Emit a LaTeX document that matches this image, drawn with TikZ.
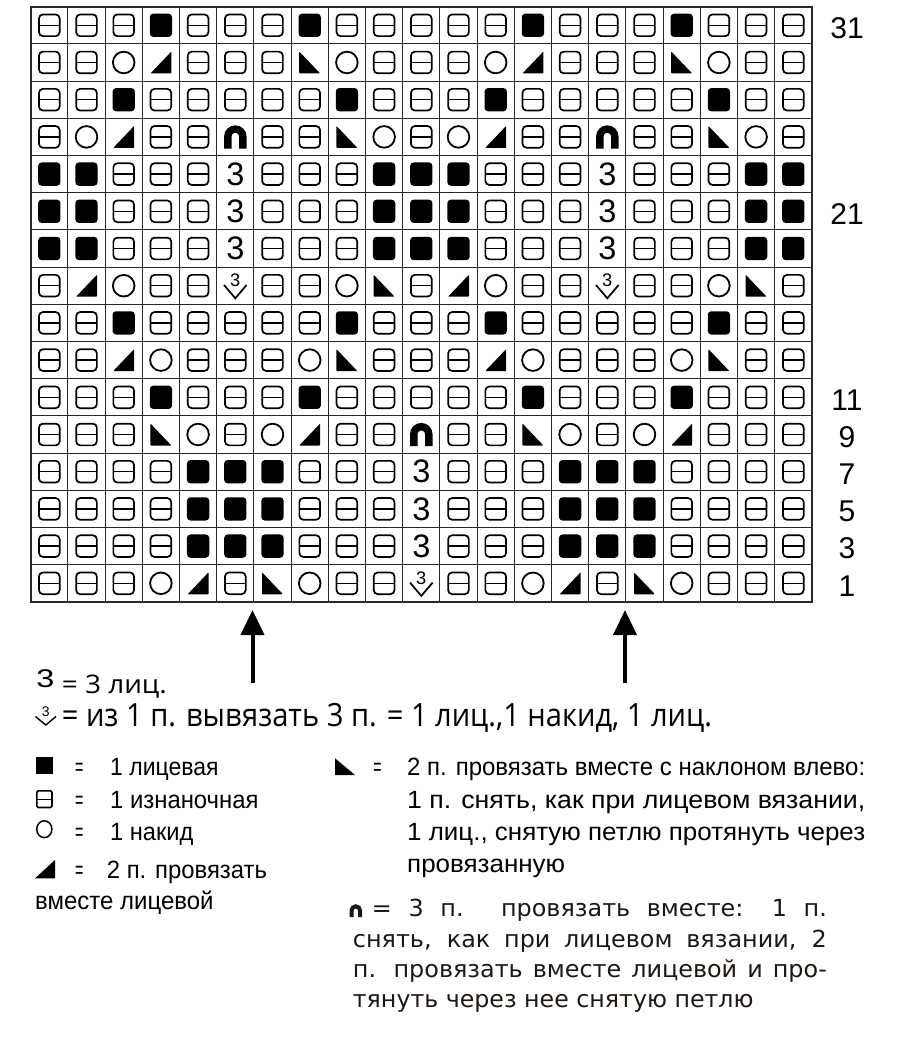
\documentclass[tikz,border=0pt]{standalone}
\usepackage{fontspec}
\usepackage{graphicx}
\setmainfont{Liberation Sans}
\newfontfamily\osans{Open Sans}
\newfontfamily\dvs{DejaVu Sans}
\usetikzlibrary{arrows.meta}
\definecolor{gridc}{RGB}{40,40,40}
\definecolor{brownink}{RGB}{30,24,18}
\newcommand{\fitw}[2]{\resizebox{#1}{\height}{#2}}
\tikzset{
  gridl/.style={draw=gridc, line width=1.1pt},
  border/.style={draw=gridc, line width=1.7pt},
  pics/symP/.style={code={
    \draw[line width=1.7pt, rounded corners=4pt] (-10.35,-10.85) rectangle (10.35,10.85);
    \draw[line width=1.5pt] (-10.35,0) -- (10.35,0);}},
  pics/symK/.style={code={
    \fill[rounded corners=3.5pt] (-11.15,-11.65) rectangle (11.15,11.65);}},
  pics/symO/.style={code={
    \draw[line width=1.8pt] (0,0) circle (10.8pt);}},
  pics/symL/.style={code={
    \fill[rounded corners=0.8pt] (-10.5,11) -- (10.5,11) -- (10.5,-11) -- cycle;}},
  pics/symR/.style={code={
    \fill[rounded corners=0.8pt] (-10.5,-11) -- (-10.5,11) -- (10.5,11) -- cycle;}},
  pics/symN/.style={code={
    \draw[line width=7.4pt] (-7.5,11.6) -- (-7.5,-0.3) arc (180:360:7.5) -- (7.5,11.6);}},
  pics/symT/.style={code={
    \node[inner sep=0pt, font=\fontsize{32.5}{32.5}\selectfont] (-t) at (0,0) {3};}},
  pics/symV/.style={code={
    \node[inner sep=0pt, font=\fontsize{18.2}{18.2}\selectfont] (-t) at (0,-5) {3};
    \draw[line width=1.7pt] (-11.3,-0.7) -- (0,12.6) -- (11.3,-0.7);}},
  rowlab/.style={anchor=base, inner sep=0pt, font=\fontsize{30}{30}\selectfont},
  uparrow/.style={line width=4pt, -{Triangle[width=23pt,length=25pt]}},
  leg/.style={anchor=base west, inner sep=0pt, font=\fontsize{25}{25}\selectfont},
  legeq/.style={anchor=base, inner sep=0pt, font=\fontsize{25}{25}\selectfont},
  blk/.style={anchor=base west, inner sep=0pt, text=brownink, font=\dvs\fontsize{23.5}{23.5}\selectfont},
}
\begin{document}
\begin{tikzpicture}[x=1pt,y=-1pt]
\useasboundingbox[fill=white] (0,0) rectangle (914,1049);
% grid
\foreach \i in {0,...,21} \draw[gridl] ({30.7+\i*37.2},6.7) -- ({30.7+\i*37.2},601.9);
\foreach \j in {0,...,16} \draw[gridl] (30.7,{6.7+\j*37.2}) -- (811.9,{6.7+\j*37.2});
\draw[border] (30.7,6.7) rectangle (811.9,601.9);
% cells
\foreach \rowdata [count=\r] in {
 {P,P,P,K,P,P,P,K,P,P,P,P,P,K,P,P,P,K,P,P,P},
 {P,P,O,L,P,P,P,R,O,P,P,P,O,L,P,P,P,R,O,P,P},
 {P,P,K,P,P,P,P,P,K,P,P,P,K,P,P,P,P,P,K,P,P},
 {P,O,L,P,P,N,P,P,R,O,P,O,L,P,P,N,P,P,R,O,P},
 {K,K,P,P,P,T,P,P,P,K,K,K,P,P,P,T,P,P,P,K,K},
 {K,K,P,P,P,T,P,P,P,K,K,K,P,P,P,T,P,P,P,K,K},
 {K,K,P,P,P,T,P,P,P,K,K,K,P,P,P,T,P,P,P,K,K},
 {P,L,O,P,P,V,P,P,O,R,P,L,O,P,P,V,P,P,O,R,P},
 {P,P,K,P,P,P,P,P,K,P,P,P,K,P,P,P,P,P,K,P,P},
 {P,P,L,O,P,P,P,O,R,P,P,P,L,O,P,P,P,O,R,P,P},
 {P,P,P,K,P,P,P,K,P,P,P,P,P,K,P,P,P,K,P,P,P},
 {P,P,P,R,O,P,O,L,P,P,N,P,P,R,O,P,O,L,P,P,P},
 {P,P,P,P,K,K,K,P,P,P,T,P,P,P,K,K,K,P,P,P,P},
 {P,P,P,P,K,K,K,P,P,P,T,P,P,P,K,K,K,P,P,P,P},
 {P,P,P,P,K,K,K,P,P,P,T,P,P,P,K,K,K,P,P,P,P},
 {P,P,P,O,L,P,R,O,P,P,V,P,P,O,L,P,R,O,P,P,P}}{
  \foreach \s [count=\c] in \rowdata {
    \pic (c\r-\c) at ({30.7+(\c-0.5)*37.2},{6.7+(\r-0.5)*37.2}) {sym\s};
  }
}
% row labels
\foreach \r/\lab in {1/31,6/21,11/11,12/9,13/7,14/5,15/3,16/1}
  \node[rowlab] (lab\lab) at (847,{6.7+(\r-0.5)*37.2+12.8}) {\lab};
% arrows
\coordinate (arAbot) at (252.5,683);
\coordinate (arAtop) at (252.5,610);
\coordinate (arBbot) at (625,683);
\coordinate (arBtop) at (625,610);
\draw[uparrow] (arAbot) -- (arAtop);
\draw[uparrow] (arBbot) -- (arBtop);
% legend top lines
\node[anchor=base west, inner sep=0pt, font=\fontsize{25.6}{25.6}\selectfont] (l1sym) at (36.2,687.5) {\fitw{18pt}{3}};
\node[anchor=base west, inner sep=0pt, font=\osans\fontsize{25.6}{25.6}\selectfont] (l1) at (61.7,693.3) {\fitw{105pt}{= 3 лиц.}};
\node[inner sep=0pt, font=\fontsize{14}{14}\selectfont] (l2sym) at (45.8,711.2) {3};
\draw[line width=1.4pt] (35.5,716.5) -- (45.8,725) -- (56,716.5);
\node[anchor=base west, inner sep=0pt, font=\osans\fontsize{32}{32}\selectfont] (l2) at (61.7,726.7) {\fitw{650pt}{= из 1 п. вывязать 3 п. = 1 лиц.,1 накид, 1 лиц.}};
% legend left column
\fill (36,756.7) rectangle (52.7,774);
\draw[line width=1.6pt, rounded corners=1.5pt] (36.8,790.8) rectangle (52,807.5);
\draw[line width=1.4pt] (36.8,799.2) -- (52,799.2);
\draw[line width=1.5pt] (44.3,829.2) ellipse (7.6 and 8.4);
\fill (35,878.3) -- (55,878.3) -- (55,860) -- cycle;
\node[legeq] (e1) at (79.2,775) {\fitw{8.3pt}{=}};
\node[legeq] (e2) at (79.2,808.3) {\fitw{8.3pt}{=}};
\node[legeq] (e3) at (79.2,840) {\fitw{8.3pt}{=}};
\node[legeq] (e4) at (79.2,878.3) {\fitw{8.3pt}{=}};
\node[leg] (t1) at (110,775) {\fitw{108.3pt}{1 лицевая}};
\node[leg] (t2) at (110,808.3) {\fitw{148.3pt}{1 изнаночная}};
\node[leg] (t3) at (110,840) {\fitw{83.3pt}{1 накид}};
\node[leg] (t4) at (106.7,878.3) {\fitw{160pt}{2 п. провязать}};
\node[leg] (t5) at (35,909.3) {\fitw{178.3pt}{вместе лицевой}};
% legend right column
\fill (335,758.3) -- (335,775) -- (355,775) -- cycle;
\node[legeq] (e5) at (377.5,775) {\fitw{8.3pt}{=}};
\node[leg] (r1) at (407,775) {\fitw{458pt}{2 п. провязать вместе с наклоном влево:}};
\node[leg] (r2) at (407,808) {\fitw{458pt}{1 п. снять, как при лицевом вязании,}};
\node[leg] (r3) at (407,840) {\fitw{458pt}{1 лиц., снятую петлю протянуть через}};
\node[leg] (r4) at (407,872) {\fitw{158pt}{провязанную}};
% bottom block
\draw[line width=4pt, brownink] (351.5,917) -- (351.5,910.6) arc (180:360:4.3) -- (360.1,917);
\node[blk] (b1) at (371.7,916.7) {\scalebox{1.016}[1]{\makebox[447.8pt][s]{= 3 п. провязать вместе: 1 п.}}};
\node[blk] (b2) at (352.7,947.3) {\scalebox{1.016}[1]{\makebox[466.5pt][s]{снять, как при лицевом вязании, 2}}};
\node[blk] (b3) at (352.7,977.3) {\scalebox{1.016}[1]{\makebox[466.5pt][s]{п. провязать вместе лицевой и про-}}};
\node[blk] (b4) at (352.7,1007.3) {\fitw{400.6pt}{тянуть через нее снятую петлю}};
\end{tikzpicture}
\end{document}
